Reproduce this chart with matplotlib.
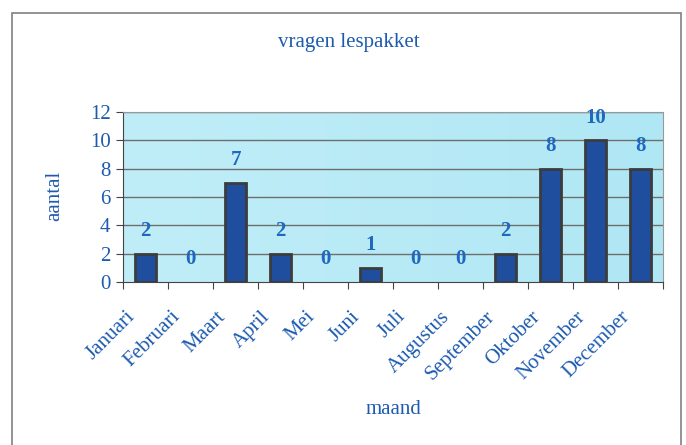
import matplotlib
matplotlib.use("Agg")
import matplotlib.pyplot as plt
import numpy as np
from matplotlib.patches import Rectangle
from matplotlib.transforms import blended_transform_factory, ScaledTranslation

months = ["Januari", "Februari", "Maart", "April", "Mei", "Juni", "Juli",
          "Augustus", "September", "Oktober", "November", "December"]
counts = [2, 0, 7, 2, 0, 1, 0, 0, 2, 8, 10, 8]
yticks = [0, 2, 4, 6, 8, 10, 12]

plt.rcParams['font.family'] = ['Liberation Serif', 'DejaVu Serif']
txt = '#1d5bb0'

W, H = 686, 445
fig = plt.figure(figsize=(W / 100, H / 100), dpi=100)
fig.patch.set_facecolor('white')
# outer border
fig.add_artist(Rectangle((12 / W, -0.05), (681 - 12) / W, 1.05 - 13 / H, transform=fig.transFigure,
                         fill=False, edgecolor='#808080', lw=1.2))

ax = fig.add_axes([123 / W, (H - 282) / H, (663 - 123) / W, (282 - 112) / H])
x = np.arange(len(months))
ax.set_xlim(-0.5, len(months) - 0.5)
ax.set_ylim(0, 12)

# gradient background
grad = np.linspace(0, 1, 256).reshape(1, -1)
c1 = np.array([192, 238, 248]) / 255
c2 = np.array([176, 231, 244]) / 255
img = (c1[None, None, :] * (1 - grad[..., None]) + c2[None, None, :] * grad[..., None])
ax.imshow(img, extent=[-0.5, len(months) - 0.5, 0, 12], aspect='auto', zorder=0)

for yv in yticks[1:]:
    ax.axhline(yv, color='#6e6e6e', lw=1.0, zorder=1)

vals = np.array(counts, dtype=float)
nz = vals > 0
ax.bar(x[nz], vals[nz], width=0.45, color='#1f4e9f', edgecolor='#3c3c3c', linewidth=2, zorder=2)

for xi, v in zip(x, counts):
    ax.annotate(str(v), (xi, v), xytext=(0, 9), textcoords='offset points',
                ha='center', va='bottom', color='#1f68c0', fontsize=15, fontweight='bold',
                zorder=3)

ax.set_yticks(yticks)
ax.set_yticklabels([str(t) for t in yticks], fontsize=15, color=txt)
ax.set_xticks(np.arange(len(months) + 1) - 0.5)
ax.set_xticklabels([])
ax.tick_params(axis='x', which='major', length=5, color='#444444', direction='out')
ax.tick_params(axis='y', length=5, color='#444444', pad=4)
for s in ['top', 'right']:
    ax.spines[s].set_color('#999999')
    ax.spines[s].set_linewidth(0.8)
ax.spines['left'].set_color('#444444')
ax.spines['bottom'].set_color('#444444')

# category labels, rotated 45 degrees, ending just left of each category centre
base = blended_transform_factory(ax.transData, ax.transAxes)
off = ScaledTranslation(-13 / 100, -32 / 100, fig.dpi_scale_trans)
for i, m in enumerate(months):
    ax.text(x[i], 0, m, transform=base + off, rotation=45, rotation_mode='anchor',
            ha='right', va='center', fontsize=15, color=txt, clip_on=False)

fig.text(349 / W, 1 - 42 / H, 'vragen lespakket', ha='center', va='center', fontsize=15, color=txt)
fig.text(55 / W, 1 - 196 / H, 'aantal', ha='center', va='center', rotation=90, fontsize=15, color=txt)
fig.text(394 / W, 1 - 410 / H, 'maand', ha='center', va='center', fontsize=15, color=txt)

fig.savefig('out.png', dpi=100)
